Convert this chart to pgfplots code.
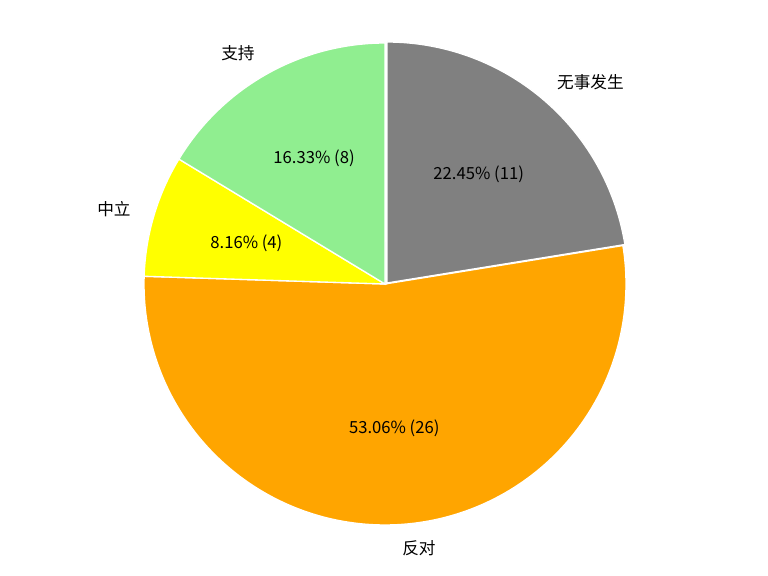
\documentclass[border=0pt]{standalone}
\usepackage{pgfplots}
\pgfplotsset{compat=1.18}
\usepackage{fontspec}
\setmainfont{Noto Sans CJK SC}
\definecolor{pgray}{HTML}{808080}
\definecolor{porange}{HTML}{FFA500}
\definecolor{pyellow}{HTML}{FFFF00}
\definecolor{pgreen}{HTML}{90EE90}
\begin{document}
\begin{tikzpicture}
% values: 无事发生 11, 反对 26, 中立 4, 支持 8 (total 49)
\pgfmathsetmacro{\aO}{90}
\pgfmathsetmacro{\aA}{90-11/49*360}
\pgfmathsetmacro{\aB}{\aA-26/49*360}
\pgfmathsetmacro{\aC}{\aB-4/49*360}
\pgfmathsetmacro{\aD}{\aC-8/49*360}
\pgfmathsetmacro{\mA}{(\aO+\aA)/2}
\pgfmathsetmacro{\mB}{(\aA+\aB)/2}
\pgfmathsetmacro{\mC}{(\aB+\aC)/2}
\pgfmathsetmacro{\mD}{(\aC+\aD)/2}
\begin{axis}[width=460.8pt,height=345.6pt,scale only axis,
  xmin=0,xmax=768,ymin=0,ymax=576,hide axis,clip=false]
\path (rel axis cs:0,0) rectangle (rel axis cs:1,1);
\addplot[fill=pgray,draw=white,line width=0.8pt,domain=\aA:\aO,samples=100,variable=\t]
  ({387+241*cos(\t)},{293+241*sin(\t)}) -- (axis cs:387,293) -- cycle;
\addplot[fill=porange,draw=white,line width=0.8pt,domain=\aB:\aA,samples=150,variable=\t]
  ({385+241*cos(\t)},{292+241*sin(\t)}) -- (axis cs:385,292) -- cycle;
\addplot[fill=pyellow,draw=white,line width=0.8pt,domain=\aC:\aB,samples=40,variable=\t]
  ({385+241*cos(\t)},{292+241*sin(\t)}) -- (axis cs:385,292) -- cycle;
\addplot[fill=pgreen,draw=white,line width=0.8pt,domain=\aD:\aC,samples=60,variable=\t]
  ({385+241*cos(\t)},{292+241*sin(\t)}) -- (axis cs:385,292) -- cycle;
% outer labels
\node[anchor=west,inner sep=0pt,font=\fontsize{10}{12}\selectfont] at (axis cs:{385+265*cos(\mA)},{292+265*sin(\mA)}) {无事发生};
\node[anchor=west,inner sep=0pt,font=\fontsize{10}{12}\selectfont] at (axis cs:{385+265*cos(\mB)},{292+265*sin(\mB)}) {反对};
\node[anchor=east,inner sep=0pt,font=\fontsize{10}{12}\selectfont] at (axis cs:{385+265*cos(\mC)},{292+265*sin(\mC)}) {中立};
\node[anchor=east,inner sep=0pt,font=\fontsize{10}{12}\selectfont] at (axis cs:{385+265*cos(\mD)},{292+265*sin(\mD)}) {支持};
% inner labels
\node[font=\fontsize{10}{12}\selectfont] at (axis cs:{385+144.6*cos(\mA)},{292+144.6*sin(\mA)}) {22.45\% (11)};
\node[font=\fontsize{10}{12}\selectfont] at (axis cs:{385+144.6*cos(\mB)},{292+144.6*sin(\mB)}) {53.06\% (26)};
\node[font=\fontsize{10}{12}\selectfont] at (axis cs:{385+144.6*cos(\mC)},{292+144.6*sin(\mC)}) {8.16\% (4)};
\node[font=\fontsize{10}{12}\selectfont] at (axis cs:{385+144.6*cos(\mD)},{292+144.6*sin(\mD)}) {16.33\% (8)};
\end{axis}
\end{tikzpicture}
\end{document}
